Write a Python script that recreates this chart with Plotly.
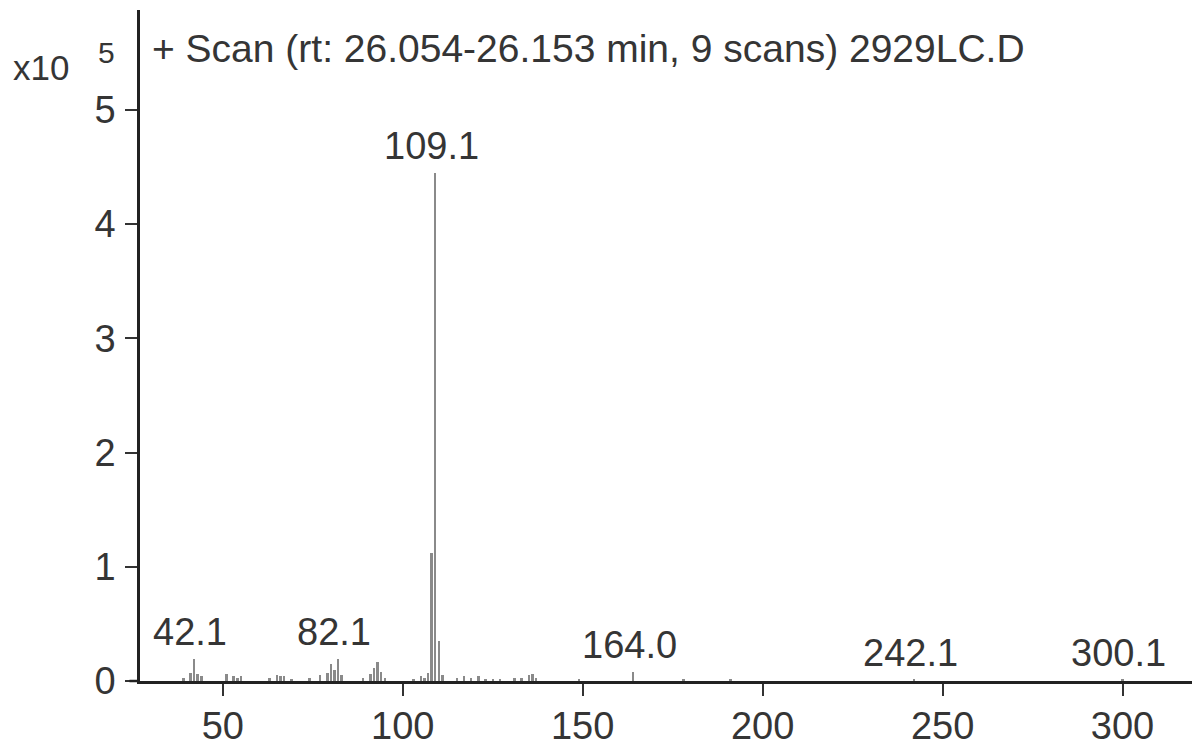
import plotly.graph_objects as go

# m/z values and abundances (in units of 10^5)
mz = [39.1, 41.1, 42.1, 43.1, 44.1, 51.1, 53.1, 54.1, 55.1, 63.1, 65.1, 66.1, 67.1,
      69.1, 74.1, 77.1, 79.1, 80.1, 81.1, 82.1, 83.1, 89.1, 91.1, 92.1, 93.1, 94.1,
      95.1, 103.1, 105.1, 106.1, 107.1, 108.1, 109.1, 110.1, 111.1, 115.1, 117.1,
      119.1, 121.1, 123.1, 125.1, 127.1, 131.1, 133.1, 135.1, 136.1, 137.1, 149.1,
      164.0, 178.1, 191.1, 242.1, 300.1]
abundance = [0.03, 0.07, 0.19, 0.06, 0.04, 0.06, 0.04, 0.03, 0.04, 0.03, 0.05, 0.04, 0.04,
             0.02, 0.03, 0.05, 0.07, 0.15, 0.10, 0.19, 0.05, 0.03, 0.06, 0.11, 0.17, 0.08,
             0.03, 0.02, 0.04, 0.03, 0.07, 1.12, 4.45, 0.35, 0.05, 0.03, 0.04,
             0.03, 0.04, 0.02, 0.02, 0.02, 0.03, 0.03, 0.05, 0.06, 0.03, 0.02,
             0.08, 0.01, 0.015, 0.012, 0.012]

label_mz = [42.1, 82.1, 109.1, 164.0, 242.1, 300.1]
x_ticks = [50, 100, 150, 200, 250, 300]
y_ticks = [0, 1, 2, 3, 4, 5]
title_text = "+ Scan (rt: 26.054-26.153 min, 9 scans) 2929LC.D"

FONT = "Liberation Sans, Arial, sans-serif"
TXT = "#353535"

fig = go.Figure()
fig.add_trace(go.Bar(
    x=mz, y=abundance, width=0.55,
    marker=dict(color="#8a8a8a", line=dict(width=0)),
    showlegend=False, hoverinfo="x+y",
))

ab_lookup = dict(zip(mz, abundance))
annotations = []
for m in label_mz:
    annotations.append(dict(
        x=m, y=ab_lookup[m], xref="x", yref="y", text=f"{m:.1f}",
        showarrow=False, xanchor="center", yanchor="bottom", xshift=-4, yshift=4,
        font=dict(family=FONT, size=38, color=TXT),
    ))

annotations += [
    dict(text=title_text, xref="paper", yref="paper", x=0.0095, y=0.943,
         xanchor="left", yanchor="middle", showarrow=False,
         font=dict(family=FONT, size=39, color=TXT)),
    dict(text="x10", xref="paper", yref="paper", x=-0.094, y=0.9136,
         xanchor="center", yanchor="middle", showarrow=False,
         font=dict(family=FONT, size=35, color=TXT)),
    dict(text="5", xref="paper", yref="paper", x=-0.0323, y=0.937,
         xanchor="center", yanchor="middle", showarrow=False,
         font=dict(family=FONT, size=30, color=TXT)),
]

fig.update_layout(
    width=1192, height=749,
    margin=dict(l=140, r=0, t=10, b=68),
    paper_bgcolor="white", plot_bgcolor="white",
    bargap=0,
    annotations=annotations,
    shapes=[dict(type="line", xref="paper", yref="paper", x0=-0.01, x1=0, y0=0, y1=0,
                 line=dict(color="#222", width=2.5))],
    xaxis=dict(
        range=[27.0, 319.3], tickvals=x_ticks, ticktext=[str(v) for v in x_ticks],
        ticks="outside", ticklen=12, tickwidth=1.5, tickcolor="#333",
        showline=True, linecolor="#222", linewidth=2.5,
        showgrid=False, zeroline=False,
        tickfont=dict(family=FONT, size=38, color=TXT),
        ticklabelstandoff=-2,
    ),
    yaxis=dict(
        range=[0, 5.875], tickvals=y_ticks, ticktext=[str(v) for v in y_ticks],
        ticks="outside", ticklen=12, tickwidth=1.5, tickcolor="#333",
        showline=True, linecolor="#222", linewidth=2.5,
        showgrid=False, zeroline=False,
        tickfont=dict(family=FONT, size=38, color=TXT),
        ticklabelstandoff=2,
    ),
)

fig.write_html("out.html", config={"displayModeBar": False},
               post_script="document.body.style.margin='0';")
